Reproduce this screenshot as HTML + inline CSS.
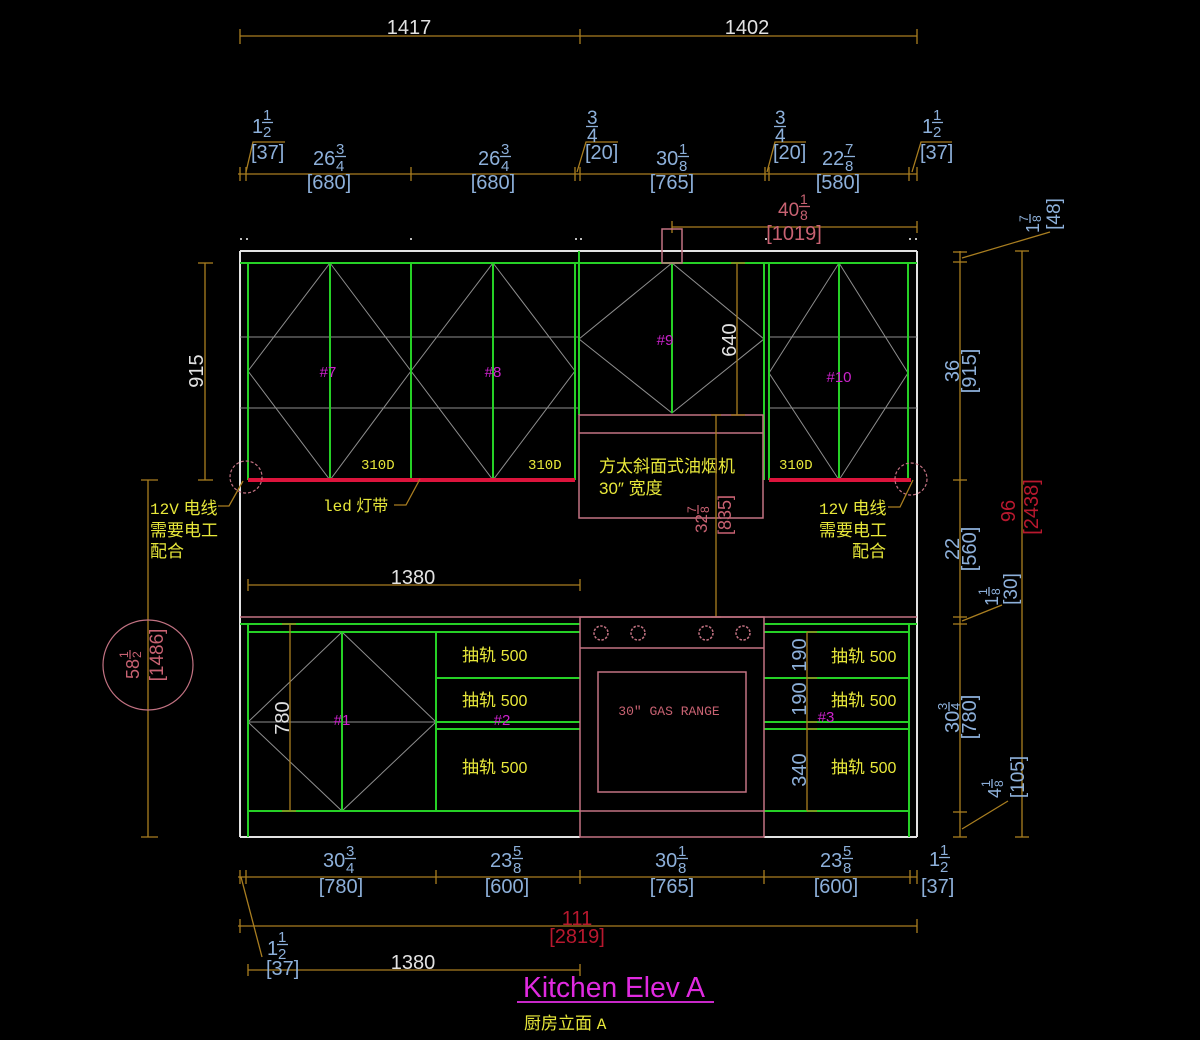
<!DOCTYPE html>
<html><head><meta charset="utf-8">
<style>
html,body{margin:0;padding:0;background:#000;}
svg{display:block;}
text{font-family:"Liberation Sans","Noto Sans CJK SC",sans-serif;}
.mono{font-family:"Liberation Mono","Noto Sans CJK SC",monospace;}
.g{stroke:#26d026;stroke-width:2;fill:none;}
.gr{stroke:#8e8e8e;stroke-width:1;fill:none;}
.p{stroke:#c27282;stroke-width:1.5;fill:none;}
.wl{stroke:#e2e2e2;stroke-width:2;fill:none;}
.d{stroke:#a97e20;stroke-width:1.3;fill:none;}
.bl{stroke:#8db0da;stroke-width:1.3;}
.tb{fill:#8db0da;}
.tw{fill:#e2e2e2;}
.ty{fill:#e8e83a;}
.tm{fill:#cc22cc;}
.tp{fill:#c86272;}
.tr{fill:#b8182e;}
</style></head><body>
<svg width="1200" height="1040" viewBox="0 0 1200 1040" xmlns="http://www.w3.org/2000/svg">
<rect width="1200" height="1040" fill="#000"/>

<!-- ===== TOP OVERALL DIMENSION ===== -->
<g class="d">
<line x1="240" y1="36" x2="917" y2="36"/>
<line x1="240" y1="29" x2="240" y2="44"/><line x1="580" y1="29" x2="580" y2="44"/><line x1="917" y1="29" x2="917" y2="44"/>
</g>
<text class="tw" x="409" y="34" font-size="20" text-anchor="middle">1417</text>
<text class="tw" x="747" y="34" font-size="20" text-anchor="middle">1402</text>

<!-- ===== TOP DETAIL DIMENSION ===== -->
<g class="d">
<line x1="238" y1="174" x2="917" y2="174"/>
<line x1="240" y1="167" x2="240" y2="181"/><line x1="246" y1="167" x2="246" y2="181"/>
<line x1="411" y1="167" x2="411" y2="181"/>
<line x1="575" y1="167" x2="575" y2="181"/><line x1="580" y1="167" x2="580" y2="181"/>
<line x1="765" y1="167" x2="765" y2="181"/><line x1="769" y1="167" x2="769" y2="181"/>
<line x1="909" y1="167" x2="909" y2="181"/><line x1="917" y1="167" x2="917" y2="181"/>
<polyline points="246,172 253,142 285,142"/>
<polyline points="577,172 586,142 618,142"/>
<polyline points="767,172 775,142 806,142"/>
<polyline points="912,172 921,142 952,142"/>
</g>
<!-- 1 1/2 [37] left -->
<text class="tb" x="252" y="133" font-size="20">1</text>
<text class="tb" x="263" y="120" font-size="15">1</text>
<line class="bl" x1="262" y1="122.5" x2="273" y2="122.5"/>
<text class="tb" x="263" y="137" font-size="15">2</text>
<text class="tb" x="251" y="159" font-size="20">[37]</text>
<!-- 26 3/4 [680] -->
<text class="tb" x="313" y="165" font-size="20">26</text>
<text class="tb" x="336" y="154" font-size="15">3</text>
<line class="bl" x1="335" y1="156.5" x2="346" y2="156.5"/>
<text class="tb" x="336" y="171" font-size="15">4</text>
<text class="tb" x="329" y="189" font-size="20" text-anchor="middle">[680]</text>
<text class="tb" x="478" y="165" font-size="20">26</text>
<text class="tb" x="501" y="154" font-size="15">3</text>
<line class="bl" x1="500" y1="156.5" x2="511" y2="156.5"/>
<text class="tb" x="501" y="171" font-size="15">4</text>
<text class="tb" x="493" y="189" font-size="20" text-anchor="middle">[680]</text>
<!-- 3/4 [20] -->
<text class="tb" x="587" y="124" font-size="19">3</text>
<line class="bl" x1="586" y1="126.5" x2="598" y2="126.5"/>
<text class="tb" x="587" y="142" font-size="19">4</text>
<text class="tb" x="585" y="159" font-size="20">[20]</text>
<!-- 30 1/8 [765] -->
<text class="tb" x="656" y="165" font-size="20">30</text>
<text class="tb" x="679" y="154" font-size="15">1</text>
<line class="bl" x1="678" y1="156.5" x2="689" y2="156.5"/>
<text class="tb" x="679" y="171" font-size="15">8</text>
<text class="tb" x="672" y="189" font-size="20" text-anchor="middle">[765]</text>
<!-- 3/4 [20] right -->
<text class="tb" x="775" y="124" font-size="19">3</text>
<line class="bl" x1="774" y1="126.5" x2="786" y2="126.5"/>
<text class="tb" x="775" y="142" font-size="19">4</text>
<text class="tb" x="773" y="159" font-size="20">[20]</text>
<!-- 22 7/8 [580] -->
<text class="tb" x="822" y="165" font-size="20">22</text>
<text class="tb" x="845" y="154" font-size="15">7</text>
<line class="bl" x1="844" y1="156.5" x2="855" y2="156.5"/>
<text class="tb" x="845" y="171" font-size="15">8</text>
<text class="tb" x="838" y="189" font-size="20" text-anchor="middle">[580]</text>
<!-- 1 1/2 [37] right -->
<text class="tb" x="922" y="133" font-size="20">1</text>
<text class="tb" x="933" y="120" font-size="15">1</text>
<line class="bl" x1="932" y1="122.5" x2="943" y2="122.5"/>
<text class="tb" x="933" y="137" font-size="15">2</text>
<text class="tb" x="920" y="159" font-size="20">[37]</text>

<!-- 40 1/8 [1019] -->
<g class="d">
<line x1="672" y1="227" x2="917" y2="227"/>
<line x1="672" y1="221" x2="672" y2="233"/><line x1="917" y1="221" x2="917" y2="233"/>
</g>
<text class="tp" x="778" y="216" font-size="19">40</text>
<text class="tp" x="800" y="204" font-size="14">1</text>
<line x1="799" y1="206.5" x2="810" y2="206.5" stroke="#c86272" stroke-width="1.3"/>
<text class="tp" x="800" y="220" font-size="14">8</text>
<text class="tp" x="794" y="240" font-size="20" text-anchor="middle">[1019]</text>

<!-- artifact dots -->
<g fill="#bbbbbb">
<rect x="240" y="238" width="2" height="2"/><rect x="246" y="238" width="2" height="2"/>
<rect x="410" y="238" width="2" height="2"/><rect x="575" y="238" width="2" height="2"/>
<rect x="580" y="238" width="2" height="2"/><rect x="765" y="238" width="2" height="2"/>
<rect x="909" y="238" width="2" height="2"/><rect x="915" y="238" width="2" height="2"/>
</g>

<!-- ===== OUTLINE ===== -->
<g class="wl">
<line x1="240" y1="251" x2="917" y2="251"/>
<line x1="240" y1="251" x2="240" y2="837"/>
<line x1="917" y1="251" x2="917" y2="837"/>
<line x1="240" y1="837" x2="580" y2="837"/>
<line x1="764" y1="837" x2="917" y2="837"/>
</g>

<!-- ===== UPPER CABINETS ===== -->
<g class="gr">
<line x1="240" y1="337" x2="579" y2="337"/><line x1="769" y1="337" x2="917" y2="337"/>
<line x1="240" y1="408" x2="579" y2="408"/><line x1="769" y1="408" x2="917" y2="408"/>
<polygon points="330,263 411,371 330,480 248,371"/>
<polygon points="493,263 575,371 493,480 411,371"/>
<polygon points="672,263 764,339 672,413 579,339"/>
<polygon points="839,263 908,373 839,480 769,373"/>
</g>
<g class="g">
<line x1="240" y1="263" x2="917" y2="263"/>
<line x1="248" y1="263" x2="248" y2="480"/>
<line x1="330" y1="263" x2="330" y2="480"/>
<line x1="411" y1="263" x2="411" y2="480"/>
<line x1="493" y1="263" x2="493" y2="480"/>
<line x1="575" y1="263" x2="575" y2="480"/>
<line x1="579" y1="251" x2="579" y2="415"/>
<line x1="672" y1="263" x2="672" y2="413"/>
<line x1="764" y1="263" x2="764" y2="480"/>
<line x1="769" y1="263" x2="769" y2="480"/>
<line x1="839" y1="263" x2="839" y2="480"/>
<line x1="908" y1="263" x2="908" y2="480"/>
</g>
<!-- LED strips -->
<line x1="248" y1="480" x2="575" y2="480" stroke="#dc143c" stroke-width="4"/>
<line x1="769" y1="480" x2="911" y2="480" stroke="#dc143c" stroke-width="4"/>
<circle cx="246" cy="477" r="16" fill="none" stroke="#c27282" stroke-width="1.2" stroke-dasharray="3,2"/>
<circle cx="911" cy="479" r="16" fill="none" stroke="#c27282" stroke-width="1.2" stroke-dasharray="3,2"/>

<!-- hood -->
<g class="p">
<rect x="579" y="415" width="184" height="103"/>
<line x1="579" y1="433" x2="763" y2="433"/>
<rect x="662" y="229" width="20" height="34"/>
</g>

<!-- labels upper -->
<text class="tm" x="328" y="377" font-size="15" text-anchor="middle">#7</text>
<text class="tm" x="493" y="377" font-size="15" text-anchor="middle">#8</text>
<text class="tm" x="665" y="345" font-size="15" text-anchor="middle">#9</text>
<text class="tm" x="839" y="382" font-size="15" text-anchor="middle">#10</text>
<text class="ty mono" x="361" y="469" font-size="14">310D</text>
<text class="ty mono" x="528" y="469" font-size="14">310D</text>
<text class="ty mono" x="779" y="469" font-size="14">310D</text>
<text class="ty" x="599" y="472" font-size="17">方太斜面式油烟机</text>
<text class="ty" x="599" y="494" font-size="17">30″ 宽度</text>

<!-- led label -->
<text class="ty" x="323" y="511" font-size="16"><tspan class="mono">led</tspan> 灯带</text>
<polyline class="d" points="394,505 406,505 420,479"/>

<!-- 12V labels -->
<text class="ty" x="150" y="514" font-size="17"><tspan class="mono" font-size="16">12V</tspan> 电线</text>
<text class="ty" x="150" y="536" font-size="17">需要电工</text>
<text class="ty" x="150" y="557" font-size="17">配合</text>
<polyline class="d" points="218,506 229,506 243,481"/>
<text class="ty" x="819" y="514" font-size="17"><tspan class="mono" font-size="16">12V</tspan> 电线</text>
<text class="ty" x="819" y="536" font-size="17">需要电工</text>
<text class="ty" x="852" y="557" font-size="17">配合</text>
<polyline class="d" points="888,507 900,507 913,480"/>

<!-- 640 dim -->
<g class="d">
<line x1="737" y1="263" x2="737" y2="415"/>
<line x1="731" y1="263" x2="745" y2="263"/><line x1="731" y1="415" x2="745" y2="415"/>
<line x1="716" y1="415" x2="716" y2="617"/>
<line x1="711" y1="415" x2="721" y2="415"/><line x1="711" y1="617" x2="721" y2="617"/>
</g>
<text class="tw" font-size="20" text-anchor="middle" transform="translate(736,340) rotate(-90)">640</text>
<g transform="translate(707,533) rotate(-90)">
<text class="tp" x="0" y="0" font-size="17">32</text>
<text class="tp" x="20" y="-11" font-size="12">7</text>
<line x1="19" y1="-9" x2="28" y2="-9" stroke="#c86272" stroke-width="1.2"/>
<text class="tp" x="20" y="2" font-size="12">8</text>
</g>
<text class="tp" font-size="18" text-anchor="middle" transform="translate(731,515) rotate(-90)">[835]</text>

<!-- 1380 middle -->
<g class="d">
<line x1="248" y1="585" x2="580" y2="585"/>
<line x1="248" y1="579" x2="248" y2="591"/><line x1="580" y1="579" x2="580" y2="591"/>
</g>
<text class="tw" x="413" y="584" font-size="20" text-anchor="middle">1380</text>

<!-- ===== LOWER CABINETS ===== -->
<line x1="240" y1="617" x2="917" y2="617" class="p"/>
<g class="gr">
<polygon points="342,632 436,722 342,811 248,722"/>
<line x1="248" y1="722" x2="436" y2="722"/>
</g>
<g class="g">
<line x1="240" y1="624" x2="580" y2="624"/>
<line x1="248" y1="632" x2="580" y2="632"/>
<line x1="248" y1="811" x2="580" y2="811"/>
<line x1="248" y1="624" x2="248" y2="837"/>
<line x1="342" y1="632" x2="342" y2="811"/>
<line x1="436" y1="632" x2="436" y2="811"/>
<line x1="436" y1="678" x2="580" y2="678"/>
<line x1="436" y1="722" x2="580" y2="722"/>
<line x1="436" y1="729" x2="580" y2="729"/>
<line x1="764" y1="624" x2="917" y2="624"/>
<line x1="764" y1="632" x2="909" y2="632"/>
<line x1="764" y1="678" x2="909" y2="678"/>
<line x1="764" y1="722" x2="909" y2="722"/>
<line x1="764" y1="729" x2="909" y2="729"/>
<line x1="764" y1="811" x2="909" y2="811"/>
<line x1="909" y1="624" x2="909" y2="837"/>
</g>
<!-- range -->
<g class="p">
<rect x="580" y="617" width="184" height="220"/>
<line x1="580" y1="648" x2="764" y2="648"/>
<line x1="580" y1="811" x2="764" y2="811"/>
<rect x="598" y="672" width="148" height="120"/>
<circle cx="601" cy="633" r="7" stroke-dasharray="2.5,1.5"/>
<circle cx="638" cy="633" r="7" stroke-dasharray="2.5,1.5"/>
<circle cx="706" cy="633" r="7" stroke-dasharray="2.5,1.5"/>
<circle cx="743" cy="633" r="7" stroke-dasharray="2.5,1.5"/>
</g>
<text class="tp mono" x="669" y="715" font-size="13" text-anchor="middle">30″ GAS RANGE</text>

<!-- drawer labels -->
<text class="ty" x="462" y="661" font-size="17">抽轨 <tspan font-size="16">500</tspan></text>
<text class="ty" x="462" y="706" font-size="17">抽轨 <tspan font-size="16">500</tspan></text>
<text class="ty" x="462" y="773" font-size="17">抽轨 <tspan font-size="16">500</tspan></text>
<text class="ty" x="831" y="662" font-size="17">抽轨 <tspan font-size="16">500</tspan></text>
<text class="ty" x="831" y="706" font-size="17">抽轨 <tspan font-size="16">500</tspan></text>
<text class="ty" x="831" y="773" font-size="17">抽轨 <tspan font-size="16">500</tspan></text>
<text class="tm" x="342" y="725" font-size="15" text-anchor="middle">#1</text>
<text class="tm" x="502" y="725" font-size="15" text-anchor="middle">#2</text>
<text class="tm" x="826" y="722" font-size="15" text-anchor="middle">#3</text>

<!-- 780 dim -->
<g class="d">
<line x1="290" y1="624" x2="290" y2="811"/>
<line x1="282" y1="624" x2="296" y2="624"/><line x1="282" y1="811" x2="296" y2="811"/>
<line x1="807" y1="632" x2="807" y2="811"/>
<line x1="807" y1="632" x2="817" y2="632"/><line x1="807" y1="678" x2="817" y2="678"/>
<line x1="807" y1="722" x2="817" y2="722"/><line x1="807" y1="729" x2="817" y2="729"/>
<line x1="807" y1="811" x2="817" y2="811"/>
</g>
<text class="tw" font-size="20" text-anchor="middle" transform="translate(289,718) rotate(-90)">780</text>
<text class="tb" font-size="20" text-anchor="middle" transform="translate(806,655) rotate(-90)">190</text>
<text class="tb" font-size="20" text-anchor="middle" transform="translate(806,699) rotate(-90)">190</text>
<text class="tb" font-size="20" text-anchor="middle" transform="translate(806,770) rotate(-90)">340</text>

<!-- ===== LEFT DIMS ===== -->
<g class="d">
<line x1="205" y1="263" x2="205" y2="480"/>
<line x1="198" y1="263" x2="213" y2="263"/><line x1="198" y1="480" x2="213" y2="480"/>
<line x1="148" y1="480" x2="148" y2="837"/>
<line x1="141" y1="480" x2="158" y2="480"/><line x1="141" y1="837" x2="158" y2="837"/>
</g>
<text class="tw" font-size="20" text-anchor="middle" transform="translate(203,371) rotate(-90)">915</text>
<circle cx="148" cy="665" r="45" fill="none" stroke="#c27282" stroke-width="1.2"/>
<g transform="translate(139,679) rotate(-90)">
<text class="tp" x="0" y="0" font-size="18">58</text>
<text class="tp" x="21" y="-11" font-size="12">1</text>
<line x1="20" y1="-9" x2="29" y2="-9" stroke="#c86272" stroke-width="1.2"/>
<text class="tp" x="21" y="2" font-size="12">2</text>
</g>
<text class="tp" font-size="19" text-anchor="middle" transform="translate(163,655) rotate(-90)">[1486]</text>

<!-- ===== RIGHT DIMS ===== -->
<g class="d">
<line x1="960" y1="251" x2="960" y2="837"/>
<line x1="953" y1="252" x2="967" y2="252"/><line x1="953" y1="262" x2="967" y2="262"/>
<line x1="953" y1="480" x2="967" y2="480"/>
<line x1="953" y1="617" x2="967" y2="617"/><line x1="953" y1="624" x2="967" y2="624"/>
<line x1="953" y1="812" x2="967" y2="812"/><line x1="953" y1="837" x2="967" y2="837"/>
<line x1="1022" y1="251" x2="1022" y2="837"/>
<line x1="1015" y1="251" x2="1029" y2="251"/><line x1="1015" y1="837" x2="1029" y2="837"/>
<line x1="962" y1="258" x2="1050" y2="232"/>
<line x1="962" y1="621" x2="1002" y2="605"/>
<line x1="962" y1="829" x2="1008" y2="801"/>
</g>
<text class="tb" font-size="20" text-anchor="middle" transform="translate(959,371) rotate(-90)">36</text>
<text class="tb" font-size="20" text-anchor="middle" transform="translate(976,371) rotate(-90)">[915]</text>
<text class="tb" font-size="20" text-anchor="middle" transform="translate(959,549) rotate(-90)">22</text>
<text class="tb" font-size="20" text-anchor="middle" transform="translate(976,549) rotate(-90)">[560]</text>
<g transform="translate(959,733) rotate(-90)">
<text class="tb" x="0" y="0" font-size="20">30</text>
<text class="tb" x="23" y="-12" font-size="13">3</text>
<line class="bl" x1="22" y1="-10" x2="31" y2="-10"/>
<text class="tb" x="23" y="1" font-size="13">4</text>
</g>
<text class="tb" font-size="20" text-anchor="middle" transform="translate(976,717) rotate(-90)">[780]</text>
<g transform="translate(998,606) rotate(-90)">
<text class="tb" x="0" y="0" font-size="18">1</text>
<text class="tb" x="11" y="-11" font-size="12">1</text>
<line class="bl" x1="10" y1="-9" x2="19" y2="-9"/>
<text class="tb" x="11" y="2" font-size="12">8</text>
</g>
<text class="tb" font-size="19" text-anchor="middle" transform="translate(1017,589) rotate(-90)">[30]</text>
<g transform="translate(1001,798) rotate(-90)">
<text class="tb" x="0" y="0" font-size="18">4</text>
<text class="tb" x="11" y="-11" font-size="12">1</text>
<line class="bl" x1="10" y1="-9" x2="19" y2="-9"/>
<text class="tb" x="11" y="2" font-size="12">8</text>
</g>
<text class="tb" font-size="19" text-anchor="middle" transform="translate(1024,777) rotate(-90)">[105]</text>
<g transform="translate(1039,233) rotate(-90)">
<text class="tb" x="0" y="0" font-size="18">1</text>
<text class="tb" x="11" y="-11" font-size="12">7</text>
<line class="bl" x1="10" y1="-9" x2="19" y2="-9"/>
<text class="tb" x="11" y="2" font-size="12">8</text>
</g>
<text class="tb" font-size="19" text-anchor="middle" transform="translate(1060,214) rotate(-90)">[48]</text>
<text class="tr" font-size="20" text-anchor="middle" transform="translate(1015,511) rotate(-90)">96</text>
<text class="tr" font-size="20" text-anchor="middle" transform="translate(1038,507) rotate(-90)">[2438]</text>

<!-- ===== BOTTOM DIMS ===== -->
<g class="d">
<line x1="238" y1="877" x2="917" y2="877"/>
<line x1="240" y1="870" x2="240" y2="884"/><line x1="246" y1="870" x2="246" y2="884"/>
<line x1="436" y1="870" x2="436" y2="884"/><line x1="580" y1="870" x2="580" y2="884"/>
<line x1="764" y1="870" x2="764" y2="884"/><line x1="910" y1="870" x2="910" y2="884"/>
<line x1="917" y1="870" x2="917" y2="884"/>
<line x1="238" y1="926" x2="917" y2="926"/>
<line x1="240" y1="919" x2="240" y2="933"/><line x1="917" y1="919" x2="917" y2="933"/>
<line x1="241" y1="877" x2="262" y2="957"/>
<line x1="248" y1="970" x2="580" y2="970"/>
<line x1="248" y1="964" x2="248" y2="976"/><line x1="580" y1="964" x2="580" y2="976"/>
</g>
<text class="tb" x="323" y="867" font-size="20">30</text>
<text class="tb" x="346" y="856" font-size="15">3</text>
<line class="bl" x1="345" y1="858.5" x2="356" y2="858.5"/>
<text class="tb" x="346" y="873" font-size="15">4</text>
<text class="tb" x="341" y="893" font-size="20" text-anchor="middle">[780]</text>
<text class="tb" x="490" y="867" font-size="20">23</text>
<text class="tb" x="513" y="856" font-size="15">5</text>
<line class="bl" x1="512" y1="858.5" x2="523" y2="858.5"/>
<text class="tb" x="513" y="873" font-size="15">8</text>
<text class="tb" x="507" y="893" font-size="20" text-anchor="middle">[600]</text>
<text class="tb" x="655" y="867" font-size="20">30</text>
<text class="tb" x="678" y="856" font-size="15">1</text>
<line class="bl" x1="677" y1="858.5" x2="688" y2="858.5"/>
<text class="tb" x="678" y="873" font-size="15">8</text>
<text class="tb" x="672" y="893" font-size="20" text-anchor="middle">[765]</text>
<text class="tb" x="820" y="867" font-size="20">23</text>
<text class="tb" x="843" y="856" font-size="15">5</text>
<line class="bl" x1="842" y1="858.5" x2="853" y2="858.5"/>
<text class="tb" x="843" y="873" font-size="15">8</text>
<text class="tb" x="836" y="893" font-size="20" text-anchor="middle">[600]</text>
<text class="tb" x="929" y="866" font-size="20">1</text>
<text class="tb" x="940" y="855" font-size="15">1</text>
<line class="bl" x1="939" y1="857.5" x2="950" y2="857.5"/>
<text class="tb" x="940" y="872" font-size="15">2</text>
<text class="tb" x="921" y="893" font-size="20">[37]</text>

<text class="tr" x="577" y="925" font-size="20" text-anchor="middle">111</text>
<text class="tr" x="577" y="943" font-size="20" text-anchor="middle">[2819]</text>

<text class="tb" x="267" y="955" font-size="20">1</text>
<text class="tb" x="278" y="942" font-size="15">1</text>
<line class="bl" x1="277" y1="944.5" x2="288" y2="944.5"/>
<text class="tb" x="278" y="959" font-size="15">2</text>
<text class="tb" x="266" y="975" font-size="20">[37]</text>
<text class="tw" x="413" y="969" font-size="20" text-anchor="middle">1380</text>

<!-- title -->
<text x="523" y="997" font-size="29" fill="#e02ae0" textLength="182" lengthAdjust="spacingAndGlyphs">Kitchen Elev A</text>
<line x1="517" y1="1002" x2="714" y2="1002" stroke="#c828c8" stroke-width="2"/>
<text class="ty" x="524" y="1029" font-size="17">厨房立面 <tspan class="mono" font-size="16">A</tspan></text>
</svg>
</body></html>
